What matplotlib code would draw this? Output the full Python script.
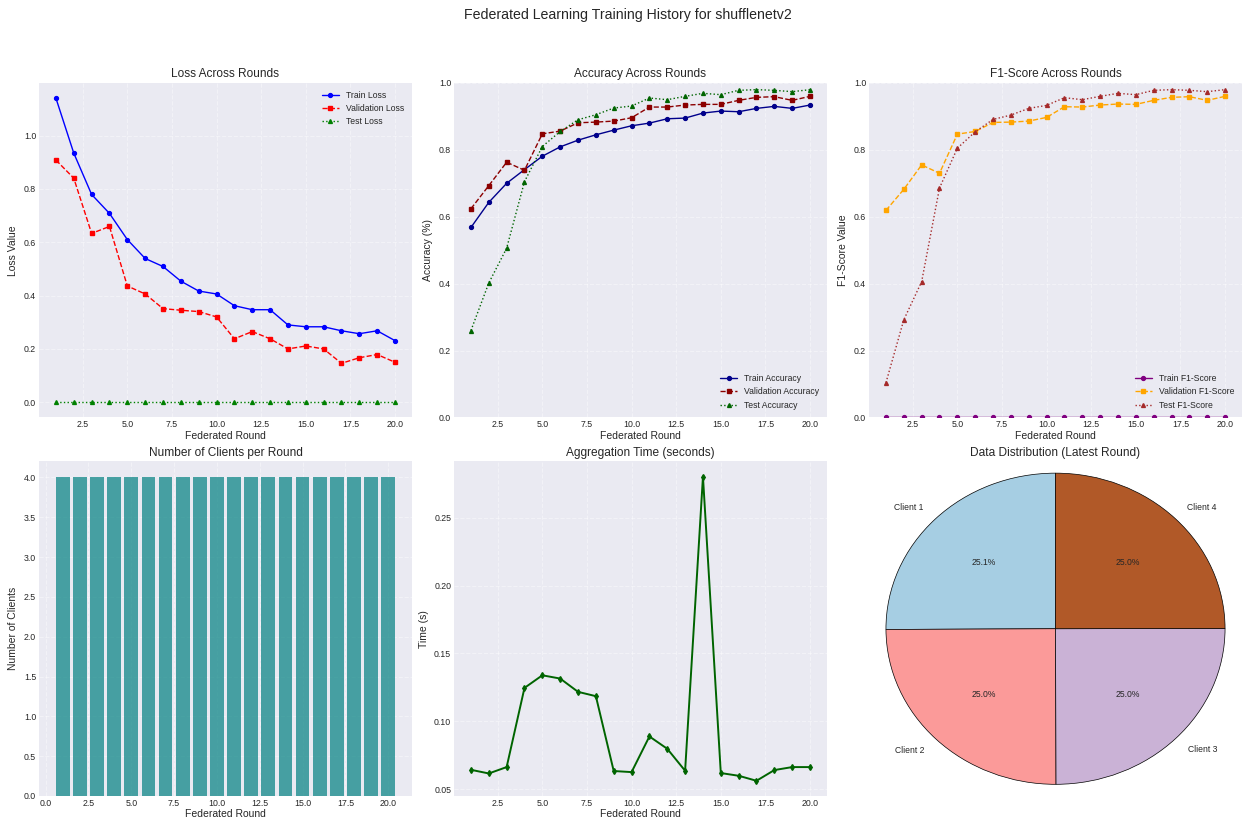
import matplotlib
matplotlib.use("Agg")
import matplotlib.pyplot as plt
import numpy as np

plt.style.use("seaborn-v0_8-darkgrid")
plt.rcParams["font.family"] = ["Liberation Sans", "DejaVu Sans"]

model_name = "shufflenetv2"
rounds = list(range(1, 21))

train_loss = [1.140, 0.934, 0.779, 0.708, 0.610, 0.539, 0.509, 0.454, 0.417, 0.406,
              0.362, 0.347, 0.347, 0.290, 0.283, 0.283, 0.268, 0.257, 0.268, 0.231]
val_loss = [0.908, 0.840, 0.633, 0.659, 0.436, 0.406, 0.351, 0.345, 0.340, 0.320,
            0.238, 0.265, 0.238, 0.200, 0.211, 0.200, 0.146, 0.167, 0.179, 0.150]
test_loss = [0.0] * 20

train_acc = [0.568, 0.643, 0.700, 0.741, 0.781, 0.809, 0.829, 0.845, 0.859, 0.872,
             0.880, 0.893, 0.895, 0.910, 0.916, 0.914, 0.924, 0.930, 0.924, 0.934]
val_acc = [0.624, 0.693, 0.763, 0.739, 0.848, 0.856, 0.881, 0.883, 0.886, 0.896,
           0.928, 0.928, 0.934, 0.936, 0.936, 0.948, 0.957, 0.959, 0.948, 0.960]
test_acc = [0.260, 0.402, 0.506, 0.705, 0.810, 0.855, 0.890, 0.905, 0.925, 0.931,
            0.955, 0.950, 0.960, 0.969, 0.965, 0.978, 0.980, 0.978, 0.974, 0.980]

train_f1 = [0.0] * 20
val_f1 = [0.619, 0.682, 0.755, 0.730, 0.847, 0.855, 0.882, 0.883, 0.886, 0.897,
          0.929, 0.928, 0.934, 0.937, 0.936, 0.948, 0.957, 0.959, 0.948, 0.960]
test_f1 = [0.104, 0.292, 0.406, 0.686, 0.805, 0.854, 0.891, 0.904, 0.924, 0.933,
           0.956, 0.950, 0.960, 0.969, 0.965, 0.978, 0.980, 0.978, 0.974, 0.980]

num_clients = [4] * 20
agg_time = [0.0642, 0.0615, 0.0662, 0.1246, 0.1339, 0.1315, 0.1217, 0.1185, 0.0633, 0.0625,
            0.0888, 0.0797, 0.0635, 0.2804, 0.0618, 0.0598, 0.0561, 0.0640, 0.0662, 0.0662]

client_names = ["Client 1", "Client 2", "Client 3", "Client 4"]
client_samples = [251, 250, 250, 250]

TITLE_FS = 8.6
LABEL_FS = 7.5
TICK_FS = 6.3
LEG_FS = 6.2
LW = 1.0
MS = 2.8

fig, axes = plt.subplots(2, 3, figsize=(12.45, 8.19), dpi=100)
fig.subplots_adjust(left=0.0313, right=0.9976, top=0.8987, bottom=0.0281,
                    wspace=0.1126, hspace=0.1315)
fig.suptitle(f"Federated Learning Training History for {model_name}",
             fontsize=10.2, x=0.5045, y=0.982, va="center")


def style(ax, title, xlabel, ylabel):
    ax.set_title(title, fontsize=TITLE_FS, pad=4)
    ax.set_xlabel(xlabel, fontsize=LABEL_FS, labelpad=1)
    ax.set_ylabel(ylabel, fontsize=LABEL_FS, labelpad=4)
    ax.tick_params(labelsize=TICK_FS, pad=2)
    ax.grid(True, linestyle="--", alpha=0.4)


# loss
ax = axes[0, 0]
ax.plot(rounds, train_loss, "b-o", lw=LW, ms=MS, label="Train Loss")
ax.plot(rounds, val_loss, "r--s", lw=LW, ms=MS, label="Validation Loss")
ax.plot(rounds, test_loss, "g:^", lw=LW, ms=MS, label="Test Loss")
style(ax, "Loss Across Rounds", "Federated Round", "Loss Value")
ax.legend(fontsize=LEG_FS, loc="upper right")

# accuracy
ax = axes[0, 1]
ax.plot(rounds, train_acc, "-o", color="darkblue", lw=LW, ms=MS, label="Train Accuracy")
ax.plot(rounds, val_acc, "--s", color="darkred", lw=LW, ms=MS, label="Validation Accuracy")
ax.plot(rounds, test_acc, ":^", color="darkgreen", lw=LW, ms=MS, label="Test Accuracy")
ax.set_ylim(0, 1)
style(ax, "Accuracy Across Rounds", "Federated Round", "Accuracy (%)")
ax.legend(fontsize=LEG_FS, loc="lower right")

# f1
ax = axes[0, 2]
ax.plot(rounds, train_f1, "-o", color="purple", lw=LW, ms=MS, label="Train F1-Score")
ax.plot(rounds, val_f1, "--s", color="orange", lw=LW, ms=MS, label="Validation F1-Score")
ax.plot(rounds, test_f1, ":^", color="brown", lw=LW, ms=MS, label="Test F1-Score")
ax.set_ylim(0, 1)
style(ax, "F1-Score Across Rounds", "Federated Round", "F1-Score Value")
ax.legend(fontsize=LEG_FS, loc="lower right")

# clients per round
ax = axes[1, 0]
ax.bar(rounds, num_clients, color="teal", alpha=0.7)
style(ax, "Number of Clients per Round", "Federated Round", "Number of Clients")

# aggregation time
ax = axes[1, 1]
ax.plot(rounds, agg_time, "-d", color="darkgreen", lw=1.4, ms=3)
style(ax, "Aggregation Time (seconds)", "Federated Round", "Time (s)")

# data distribution
ax = axes[1, 2]
colors = plt.cm.Paired(np.linspace(0, 1, len(client_names)))
ax.pie(client_samples, labels=client_names, autopct="%1.1f%%", startangle=90,
       colors=colors, wedgeprops={"edgecolor": "black", "linewidth": 0.5},
       textprops={"fontsize": 6.2})
ax.set_aspect("auto")
ax.set_xlim(-1.1, 1.1)
ax.set_ylim(-1.075, 1.075)
ax.set_title("Data Distribution (Latest Round)", fontsize=TITLE_FS, pad=4)

fig.savefig("out.png", dpi=100)
